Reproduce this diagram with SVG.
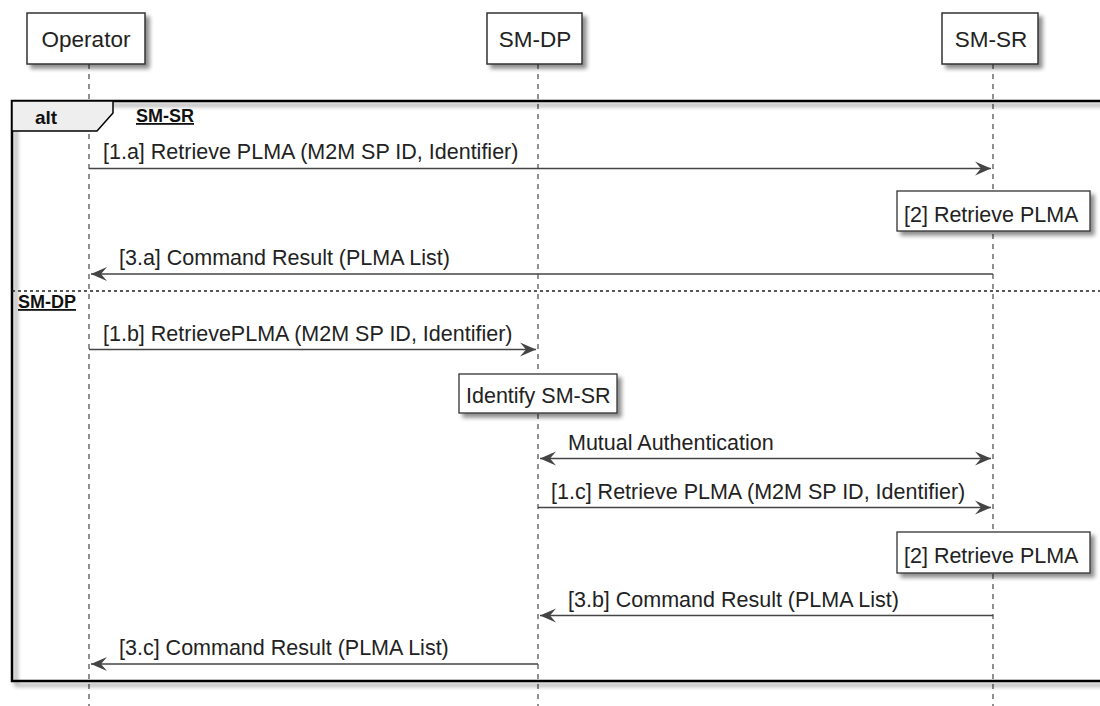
<svg xmlns="http://www.w3.org/2000/svg" width="1100" height="706" viewBox="0 0 1100 706">
<defs>
<filter id="sh" x="-20%" y="-20%" width="150%" height="160%">
<feGaussianBlur in="SourceAlpha" stdDeviation="2"/>
<feOffset dx="4" dy="4" result="b"/>
<feComponentTransfer><feFuncA type="linear" slope="0.45"/></feComponentTransfer>
<feMerge><feMergeNode/><feMergeNode in="SourceGraphic"/></feMerge>
</filter>
<marker id="ah" markerUnits="userSpaceOnUse" markerWidth="20" markerHeight="16" viewBox="-17 -8 18 16" refX="0" refY="0" orient="auto-start-reverse">
<polygon points="0,0 -16,-7 -10,0 -16,7" fill="#444"/>
</marker>
<style>
.part{fill:#fff;stroke:#333;stroke-width:1.5}
.pt{font-family:"Liberation Sans",Arial,sans-serif;font-size:22.5px;fill:#222;text-anchor:middle}
.life{stroke:#555;stroke-width:1.3;stroke-dasharray:5,5;fill:none}
.msg{stroke:#444;stroke-width:1.5;fill:none}
.mt{font-family:"Liberation Sans",Arial,sans-serif;font-size:21.5px;fill:#222}
.note{fill:#fff;stroke:#333;stroke-width:1.3}
.g{font-family:"Liberation Sans",Arial,sans-serif;font-size:18px;font-weight:bold;fill:#111;text-decoration:underline}
</style>
</defs>
<rect width="1100" height="706" fill="#fff"/>
<g id="lifelines">
<line class="life" x1="89" y1="64" x2="89" y2="706"/>
<line class="life" x1="538" y1="64" x2="538" y2="706"/>
<line class="life" x1="993" y1="64" x2="993" y2="706"/>
</g>
<g id="frame">
<rect x="12" y="101" width="1100" height="580" fill="none" stroke="#000" stroke-width="2.5" filter="url(#sh)"/>
<path d="M12,101 H113 V113 L97,131 H12 Z" fill="#eee" stroke="#000" stroke-width="1.5"/>
<text x="35" y="124" font-family="'Liberation Sans',Arial,sans-serif" font-size="19px" font-weight="bold" fill="#111">alt</text>
<text class="g" x="136" y="122">SM-SR</text>
<line x1="12" y1="291" x2="1100" y2="291" stroke="#222" stroke-width="1.3" stroke-dasharray="3,3"/>
<text class="g" x="18" y="308">SM-DP</text>
</g>
<g id="operator"><rect class="part" x="27" y="13" width="118" height="51" filter="url(#sh)"/><text class="pt" x="86" y="47">Operator</text></g>
<g id="smdp"><rect class="part" x="487" y="13" width="95" height="51" filter="url(#sh)"/><text class="pt" x="535" y="47">SM-DP</text></g>
<g id="smsr"><rect class="part" x="942" y="13" width="96" height="51" filter="url(#sh)"/><text class="pt" x="991" y="47">SM-SR</text></g>
<g id="note1"><rect class="note" x="897" y="191" width="193" height="40" filter="url(#sh)"/><text class="mt" x="904" y="222">[2] Retrieve PLMA</text></g>
<g id="note-identify"><rect class="note" x="459" y="374" width="158" height="39" filter="url(#sh)"/><text class="mt" x="466" y="403">Identify SM-SR</text></g>
<g id="note2"><rect class="note" x="897" y="532" width="193" height="41" filter="url(#sh)"/><text class="mt" x="904" y="563">[2] Retrieve PLMA</text></g>
<g id="connectors">
<line class="msg" x1="89" y1="168.5" x2="991" y2="168.5" marker-end="url(#ah)"/>
<text class="mt" x="103" y="159">[1.a] Retrieve PLMA (M2M SP ID, Identifier)</text>
<line class="msg" x1="993" y1="274" x2="91" y2="274" marker-end="url(#ah)"/>
<text class="mt" x="119" y="265">[3.a] Command Result (PLMA List)</text>
<line class="msg" x1="89" y1="349.5" x2="536" y2="349.5" marker-end="url(#ah)"/>
<text class="mt" x="103" y="341">[1.b] RetrievePLMA (M2M SP ID, Identifier)</text>
<line class="msg" x1="540" y1="458.5" x2="991" y2="458.5" marker-start="url(#ah)" marker-end="url(#ah)"/>
<text class="mt" x="568" y="450">Mutual Authentication</text>
<line class="msg" x1="538" y1="507.5" x2="991" y2="507.5" marker-end="url(#ah)"/>
<text class="mt" x="551" y="499">[1.c] Retrieve PLMA (M2M SP ID, Identifier)</text>
<line class="msg" x1="993" y1="615.5" x2="540" y2="615.5" marker-end="url(#ah)"/>
<text class="mt" x="568" y="607">[3.b] Command Result (PLMA List)</text>
<line class="msg" x1="538" y1="664" x2="91" y2="664" marker-end="url(#ah)"/>
<text class="mt" x="119" y="655">[3.c] Command Result (PLMA List)</text>
</g>
</svg>
